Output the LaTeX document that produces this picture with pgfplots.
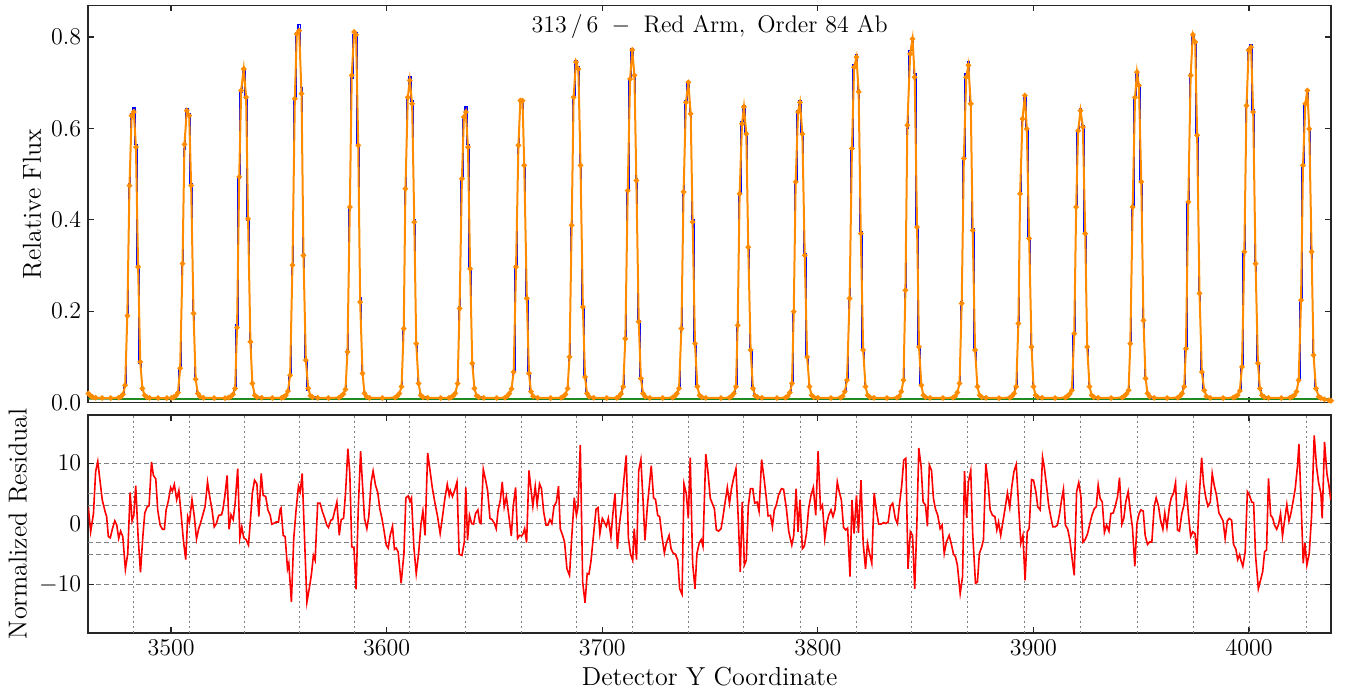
\documentclass[border=0pt]{standalone}
\usepackage{pgfplots}
\usepackage{pgfplotstable}
\pgfplotsset{compat=1.18}
\definecolor{dorange}{RGB}{255,140,0}
\definecolor{fgreen}{RGB}{34,139,34}
\definecolor{gridgray}{RGB}{128,128,128}

\pgfplotstableread{
x d m
3461.6 0.020 0.020
3462.6 0.015 0.015
3463.6 0.012 0.012
3465 0.0105 0.0105
3468 0.010 0.010
3472 0.010 0.010
3475.7 0.011 0.011
3476.7 0.013 0.013
3477.7 0.018 0.018
3478.7 0.038 0.038
3479.7 0.19 0.19
3480.7 0.48 0.475
3481.7 0.632 0.628
3482.7 0.645 0.636
3483.7 0.565 0.559
3484.7 0.30 0.297
3485.7 0.085 0.089
3486.7 0.028 0.031
3487.7 0.016 0.016
3488.7 0.012 0.012
3490 0.0105 0.0105
3494 0.010 0.010
3498 0.010 0.010
3500.2 0.0105 0.0105
3501.2 0.012 0.012
3502.2 0.015 0.015
3503.2 0.022 0.022
3504.2 0.075 0.075
3505.3 0.305 0.304
3506.2 0.555 0.565
3507.3 0.643 0.639
3508.4 0.632 0.628
3509.3 0.48 0.475
3510.4 0.195 0.195
3511.4 0.048 0.051
3512.4 0.02 0.02
3513.4 0.013 0.013
3515 0.0105 0.0105
3520 0.010 0.010
3525 0.010 0.010
3526.7 0.011 0.011
3527.7 0.013 0.013
3528.7 0.018 0.018
3529.7 0.031 0.031
3530.6 0.17 0.164
3531.6 0.49 0.494
3532.5 0.68 0.683
3533.7 0.73 0.730
3534.8 0.665 0.668
3535.7 0.40 0.402
3536.8 0.13 0.133
3537.7 0.04 0.042
3538.8 0.016 0.016
3539.8 0.012 0.012
3542 0.0105 0.0105
3547 0.010 0.010
3551.2 0.0105 0.0105
3552.2 0.012 0.012
3553.2 0.016 0.016
3554.2 0.025 0.025
3555.2 0.06 0.06
3556.3 0.30 0.301
3557.4 0.665 0.665
3558.3 0.81 0.807
3559.4 0.827 0.814
3560.5 0.69 0.676
3561.4 0.325 0.322
3562.5 0.09 0.093
3563.6 0.028 0.031
3564.6 0.015 0.015
3565.6 0.012 0.012
3568 0.0105 0.0105
3573 0.010 0.010
3577.9 0.011 0.011
3578.9 0.014 0.014
3579.9 0.019 0.019
3580.9 0.029 0.029
3581.8 0.115 0.111
3582.9 0.428 0.428
3583.8 0.71 0.716
3584.9 0.805 0.811
3585.8 0.81 0.805
3586.8 0.565 0.563
3587.7 0.23 0.22
3588.8 0.064 0.064
3589.7 0.02 0.02
3590.7 0.013 0.013
3592 0.0105 0.0105
3598 0.010 0.010
3603.9 0.011 0.011
3604.9 0.014 0.014
3605.9 0.020 0.020
3606.9 0.035 0.035
3607.9 0.16 0.162
3608.7 0.47 0.468
3609.8 0.67 0.668
3610.7 0.714 0.705
3611.8 0.66 0.654
3612.8 0.40 0.395
3613.7 0.125 0.129
3614.8 0.04 0.042
3615.8 0.016 0.016
3616.8 0.012 0.012
3619 0.0105 0.0105
3625 0.010 0.010
3628.9 0.0105 0.0105
3629.9 0.012 0.012
3630.9 0.015 0.015
3631.8 0.02 0.02
3632.9 0.042 0.042
3633.8 0.21 0.206
3634.9 0.49 0.49
3635.8 0.625 0.625
3636.7 0.647 0.636
3637.7 0.565 0.559
3638.7 0.295 0.293
3639.7 0.085 0.086
3640.7 0.03 0.031
3641.7 0.015 0.015
3642.7 0.012 0.012
3645 0.0105 0.0105
3651 0.010 0.010
3654.9 0.011 0.011
3655.9 0.014 0.014
3656.9 0.020 0.020
3657.9 0.030 0.030
3658.9 0.067 0.067
3660 0.30 0.297
3661.1 0.56 0.563
3662 0.663 0.661
3663 0.663 0.661
3663.8 0.52 0.519
3665 0.23 0.228
3666 0.062 0.064
3666.9 0.024 0.024
3667.9 0.014 0.014
3670 0.0105 0.0105
3676 0.010 0.010
3680.9 0.0105 0.0105
3681.9 0.013 0.013
3682.9 0.018 0.018
3683.9 0.031 0.031
3684.8 0.1 0.1
3685.8 0.385 0.388
3686.7 0.67 0.668
3687.8 0.748 0.745
3688.9 0.735 0.73
3689.9 0.52 0.519
3691 0.21 0.209
3692 0.055 0.056
3692.9 0.02 0.02
3693.9 0.013 0.013
3696 0.0105 0.0105
3702 0.010 0.010
3706.7 0.0105 0.0105
3707.7 0.013 0.013
3708.7 0.019 0.019
3709.7 0.035 0.035
3710.7 0.14 0.14
3711.8 0.464 0.464
3712.9 0.708 0.708
3713.9 0.775 0.772
3714.9 0.716 0.716
3715.8 0.49 0.486
3716.9 0.18 0.177
3717.9 0.053 0.053
3718.9 0.02 0.02
3719.9 0.013 0.013
3722 0.0105 0.0105
3728 0.010 0.010
3732.6 0.011 0.011
3733.6 0.014 0.014
3734.6 0.020 0.020
3735.6 0.031 0.031
3736.7 0.165 0.162
3737.7 0.46 0.461
3738.8 0.66 0.657
3739.9 0.703 0.701
3741 0.63 0.632
3741.9 0.40 0.395
3743 0.13 0.129
3744.1 0.035 0.035
3745.1 0.016 0.016
3746.1 0.012 0.012
3748 0.0105 0.0105
3755 0.010 0.010
3759 0.011 0.011
3760 0.014 0.014
3761 0.020 0.020
3762 0.035 0.035
3762.8 0.17 0.169
3763.7 0.46 0.457
3764.8 0.615 0.61
3765.7 0.65 0.647
3766.8 0.59 0.588
3767.7 0.34 0.34
3768.8 0.115 0.115
3769.9 0.031 0.031
3770.9 0.015 0.015
3772 0.012 0.012
3774 0.0105 0.0105
3781 0.010 0.010
3785 0.011 0.011
3786 0.014 0.014
3787 0.022 0.022
3788 0.042 0.042
3788.8 0.2 0.199
3789.7 0.485 0.483
3790.8 0.638 0.636
3791.7 0.661 0.657
3792.8 0.59 0.588
3793.9 0.325 0.322
3795 0.1 0.1
3796.1 0.035 0.035
3797.1 0.016 0.016
3798.1 0.012 0.012
3800 0.0105 0.0105
3806 0.010 0.010
3810.5 0.011 0.011
3811.5 0.014 0.014
3812.5 0.024 0.024
3813.5 0.049 0.049
3814.7 0.23 0.228
3815.8 0.555 0.556
3816.8 0.74 0.734
3817.9 0.761 0.756
3818.9 0.685 0.68
3819.9 0.375 0.37
3821 0.115 0.115
3822.1 0.035 0.035
3823.1 0.016 0.016
3824.1 0.012 0.012
3826 0.0105 0.0105
3832 0.010 0.010
3836.7 0.011 0.011
3837.7 0.014 0.014
3838.7 0.024 0.024
3839.7 0.049 0.049
3840.6 0.25 0.246
3841.5 0.6 0.607
3842.8 0.77 0.763
3843.9 0.796 0.796
3844.9 0.72 0.712
3846 0.385 0.384
3846.9 0.12 0.122
3848 0.038 0.038
3848.9 0.016 0.016
3849.9 0.012 0.012
3852 0.0105 0.0105
3858 0.010 0.010
3862.7 0.011 0.011
3863.7 0.014 0.014
3864.7 0.022 0.022
3865.7 0.042 0.042
3866.7 0.22 0.217
3867.7 0.535 0.534
3868.8 0.72 0.712
3869.8 0.746 0.738
3870.9 0.655 0.654
3871.8 0.38 0.377
3872.9 0.115 0.115
3874 0.035 0.035
3875 0.016 0.016
3876 0.012 0.012
3878 0.0105 0.0105
3884 0.010 0.010
3889 0.011 0.011
3890 0.014 0.014
3891 0.020 0.020
3892 0.035 0.035
3893 0.175 0.173
3893.8 0.455 0.457
3894.9 0.62 0.621
3896 0.672 0.672
3896.9 0.6 0.599
3898 0.36 0.359
3899.1 0.12 0.122
3900 0.035 0.035
3901 0.016 0.016
3902 0.012 0.012
3904 0.0105 0.0105
3910 0.010 0.010
3914.8 0.011 0.011
3915.8 0.014 0.014
3916.8 0.019 0.019
3917.8 0.027 0.027
3918.9 0.15 0.151
3919.8 0.43 0.428
3920.7 0.595 0.595
3921.8 0.644 0.639
3922.9 0.605 0.603
3924 0.37 0.37
3924.9 0.12 0.122
3926 0.035 0.035
3927 0.016 0.016
3928 0.012 0.012
3930 0.0105 0.0105
3936 0.010 0.010
3941.1 0.011 0.011
3942.1 0.014 0.014
3943.1 0.019 0.019
3944.1 0.027 0.027
3944.9 0.13 0.129
3946 0.43 0.428
3947.1 0.67 0.668
3948 0.725 0.723
3948.9 0.695 0.694
3950 0.485 0.483
3951 0.18 0.18
3952 0.053 0.053
3952.9 0.02 0.02
3953.9 0.013 0.013
3956 0.0105 0.0105
3962 0.010 0.010
3966.9 0.011 0.011
3967.9 0.014 0.014
3968.9 0.020 0.020
3969.9 0.035 0.035
3970.7 0.12 0.118
3971.8 0.44 0.439
3972.9 0.72 0.716
3973.9 0.806 0.805
3975 0.79 0.789
3975.9 0.585 0.585
3977 0.24 0.239
3978.1 0.067 0.067
3979.2 0.027 0.027
3980.2 0.014 0.014
3982 0.0105 0.0105
3988 0.010 0.010
3992.7 0.011 0.011
3993.7 0.013 0.013
3994.7 0.016 0.016
3995.7 0.026 0.026
3996.7 0.078 0.078
3997.8 0.33 0.33
3998.8 0.65 0.65
3999.8 0.775 0.771
4000.9 0.784 0.778
4001.9 0.64 0.636
4003 0.305 0.304
4004.1 0.086 0.086
4005 0.031 0.031
4006 0.016 0.016
4007 0.012 0.012
4009 0.0105 0.0105
4015 0.010 0.010
4019 0.011 0.011
4020 0.013 0.013
4021 0.016 0.016
4022 0.024 0.024
4023 0.049 0.049
4024.1 0.225 0.224
4025 0.52 0.519
4026.1 0.655 0.654
4027 0.683 0.683
4027.9 0.6 0.599
4029 0.33 0.33
4029.9 0.105 0.104
4031 0.031 0.031
4032.3 0.013 0.013
4033.3 0.010 0.010
4035 0.007 0.007
4037 0.005 0.005
4038 0.004 0.004
}\flux

\pgfplotstableread{
x r
3461.6 2.8
3462.7 -1.3
3464 1.7
3465 8.6
3466 10.3
3467 7.2
3468.1 3.9
3469.4 2.0
3470.1 1.2
3470.9 -2.1
3471.8 -2.3
3472.8 -0.8
3473.9 0.5
3474.8 -0.2
3475.7 -2.4
3476.6 -1.2
3477.6 -2.1
3478.8 -7.5
3479.9 -4.9
3481 5.2
3481.9 0.5
3482.7 1.4
3483.6 6.3
3484.7 -2.1
3485.8 -8.0
3486.9 -2.1
3487.8 1.8
3488.9 2.8
3489.8 3.0
3490.9 10.2
3491.8 8.0
3492.9 7.4
3493.8 2.3
3494.9 -0.2
3496 -0.9
3496.9 -0.9
3497.7 2.3
3498.8 3.9
3499.8 6.0
3500.6 5.4
3501.5 6.5
3502.6 4.0
3503.6 5.5
3504.6 1.8
3505.7 -2.7
3506.8 -5.9
3507.7 1.2
3508.5 0.3
3509.7 4.0
3510.7 1.4
3511.8 -2.5
3512.8 -0.8
3513.6 0.05
3514.8 1.6
3515.8 2.9
3516.9 6.9
3517.9 4.5
3519 2.3
3520 -0.5
3521 0.05
3522.1 1.4
3523.4 1.5
3524 2.3
3524.9 4.5
3526 8.0
3526.9 -0.9
3527.8 1.5
3528.8 0.7
3529.7 3.4
3530.9 9.1
3531.9 -2.3
3532.8 -0.5
3533.7 -2.3
3534.8 -2.6
3535.9 -3.5
3536.8 0.6
3537.7 5.1
3538.7 7.2
3539.8 6.6
3540.7 1.2
3541.8 8.3
3542.7 4.7
3543.9 4.5
3544.9 2.3
3546 1.4
3546.7 -0.05
3547.5 0.05
3548.7 0.3
3549.8 0.3
3550.6 2.4
3551 2.6
3552 -1.9
3552.9 -2.1
3554 -7.4
3554.6 -6.5
3555.8 -12.9
3556.9 -2.4
3558 2.4
3559.1 6.2
3559.9 5.3
3560.8 8.3
3561.9 -2.4
3563 -12.9
3564.2 -10.4
3565.1 -8.3
3566 -5.2
3566.8 -6.0
3568 3.4
3569.1 3.4
3570.2 2.0
3571.3 0.9
3572.2 -0.2
3573 -0.6
3574.1 0.6
3574.9 0.7
3575.8 2.0
3576.9 3.6
3578 -1.9
3578.9 0.7
3580 0.9
3580.9 5.0
3582 12.4
3582.9 8.3
3583.8 -3.8
3584.8 -3.9
3585.8 -10.8
3586.8 2.3
3587.9 12.0
3588.8 6.4
3589.7 0.9
3590.8 -0.8
3591.7 1.2
3592.8 6.9
3593.7 8.7
3594.8 6.4
3595.9 5.1
3596.8 2.5
3597.8 0.9
3598.8 -1.2
3599.8 -3.5
3600.7 -4.0
3601.6 -1.9
3602.7 -0.4
3603.6 -4.2
3604.4 -4.0
3605.3 -4.6
3606.7 -9.8
3608 -4.9
3608.9 4.3
3610 4.6
3610.8 3.7
3611.5 4.3
3612.6 -3.8
3613.7 -8.2
3614.8 -4.9
3615.9 -0.05
3616.8 2.1
3617.8 -1.9
3619 11.7
3620 9.1
3621.1 6.1
3622.4 3.4
3623.6 1.2
3624.8 -1.6
3625.9 1.2
3627 4.2
3628.1 6.5
3629 4.7
3629.5 5.5
3630.5 4.5
3631.5 5.5
3632.6 6.9
3633.6 -5.0
3634.9 -5.2
3636 -3.0
3636.7 6.0
3637.5 -2.7
3638.4 1.4
3639.4 0.05
3640.3 -0.05
3641.2 1.7
3642.3 2.3
3643.1 0.2
3643.7 0.05
3644.8 9.0
3645.9 7.2
3646.8 5.5
3647.9 0.9
3648.9 0.7
3650 0.05
3650.8 -0.8
3651.7 2.3
3652.7 3.9
3653.6 6.9
3654.5 2.8
3655.5 4.5
3656.7 1.2
3657.8 -2.0
3658.7 2.9
3659.8 6.0
3660.7 -2.4
3661.6 -1.9
3662.6 -2.0
3663.3 -1.6
3664 -0.8
3664.9 -3.1
3666 8.8
3666.9 5.8
3667.8 2.9
3668.9 6.2
3669.8 3.2
3670.9 6.6
3671.8 5.8
3672.8 2.0
3673.9 -0.2
3674.8 -0.2
3675.7 0.7
3676.6 0.05
3677.6 2.9
3678.7 3.6
3679.7 6.2
3680.5 -0.8
3681.6 -1.9
3682.5 -3.0
3683.6 -7.4
3684.8 -8.5
3685.8 -2.4
3687 4.3
3688 1.4
3688.7 2.7
3689.8 13.0
3690.9 -9.6
3692 -13.0
3693 -8.2
3693.8 -8.3
3694.7 -6.3
3696 -1.6
3697.1 2.4
3698 2.7
3698.9 -1.6
3700 0.9
3700.9 0.3
3701.9 -0.4
3702.8 0.9
3704 -2.1
3704.9 1.6
3705.9 5.0
3707 -4.1
3708 0.05
3709 2.9
3710 7.2
3711.1 11.3
3712.1 -2.3
3713.1 -5.0
3714.1 -6.0
3714.8 -0.8
3715.9 -5.9
3716.9 8.8
3717.9 10.6
3718.9 3.9
3719.8 -2.7
3720.9 2.9
3721.8 6.2
3722.7 9.6
3723.8 4.3
3724.7 4.0
3725.7 1.4
3726.6 1.2
3727.7 -2.1
3728.8 -4.8
3729.7 -3.2
3731 -1.9
3731.9 -4.1
3732.8 -4.8
3733.9 -5.0
3735 -6.0
3735.9 -10.7
3737 -11.6
3737.9 6.6
3739 4.9
3739.9 0.9
3740.8 10.9
3741.9 -6.5
3743 -10.7
3743.9 -4.9
3745 -3.1
3745.9 -2.6
3746.7 -3.7
3748 11.5
3749 8.6
3750.1 4.2
3751 3.4
3752 2.5
3752.9 -1.0
3754 -1.2
3755.1 -0.8
3756 1.2
3757.1 3.9
3758 6.0
3759 3.4
3759.9 5.8
3760.9 7.5
3762 9.1
3763.1 0.6
3764 -7.9
3764.9 3.6
3765.9 -6.8
3766.8 -6.0
3767.7 2.8
3768.7 5.8
3769.8 5.8
3770.7 3.4
3771.8 3.6
3772.7 2.1
3773.9 10.6
3775 7.6
3776.1 4.2
3776.9 1.3
3778 1.4
3778.9 -0.5
3779.8 2.3
3780.7 3.1
3781.8 4.8
3783.1 5.8
3784.1 5.7
3785.4 2.5
3786.5 -1.3
3787.9 -3.5
3788.8 -1.9
3789.9 5.8
3790.8 -1.3
3791.7 4.0
3792.8 -4.1
3793.7 -3.7
3794.7 -1.6
3795.7 2.5
3796.8 4.7
3797.9 6.0
3799 1.4
3800.1 12.0
3801.2 2.5
3802.1 3.1
3803.2 -2.4
3804.1 0.05
3805 1.4
3806.1 2.3
3807 1.2
3807.9 2.3
3809 6.9
3809.9 5.3
3810.9 3.9
3811.9 -0.6
3812.9 -1.0
3813.8 -0.7
3814.9 -8.7
3815.8 3.9
3816.8 -1.6
3817.9 4.7
3818.8 -1.5
3820 7.2
3821 -3.2
3822.1 -7.4
3823 -3.2
3823.9 -4.8
3825 -6.5
3826.1 5.1
3827.1 2.3
3828.2 -0.05
3829.3 -0.05
3830.5 0.2
3831.5 0.05
3832.6 0.3
3833.6 2.9
3834.7 3.4
3835.9 0.9
3836.9 0.05
3837.8 3.1
3838.9 6.4
3839.8 10.5
3840.8 10.8
3841.8 -7.4
3842.9 -1.3
3843.9 -1.9
3844.9 -10.7
3845.9 -0.2
3846.8 12.5
3847.9 9.4
3848.8 3.6
3849.9 3.1
3850.8 -0.4
3851.7 9.7
3852.7 8.8
3853.6 4.2
3854.5 2.5
3855.6 1.4
3856.7 -0.8
3857.6 -0.2
3858.6 -4.9
3859.6 -3.0
3860.9 -1.9
3862 -3.5
3862.9 -5.0
3863.8 -5.4
3864.7 -6.8
3866 -11.5
3867.1 -8.7
3868 8.7
3869 1.0
3869.8 6.9
3870.9 8.8
3871.8 -1.6
3873.1 -9.8
3874 -9.6
3874.9 -4.9
3876 -3.8
3876.8 -2.6
3877.9 9.9
3879 6.6
3879.9 2.3
3881 1.4
3882.1 1.2
3883 -1.0
3883.8 0.3
3884.8 -1.9
3885.8 0.3
3886.9 2.7
3887.9 5.1
3889 2.7
3889.9 6.0
3890.9 8.6
3892 9.8
3892.9 4.2
3894.1 -3.2
3895.1 -1.9
3896.1 -9.3
3897.1 -1.3
3898 -0.8
3899.1 7.3
3900 7.2
3901.1 5.3
3902 2.8
3903.1 2.3
3904.2 11.0
3905.1 9.1
3906.2 5.8
3907.1 2.9
3908 1.2
3909 -0.5
3910 -0.5
3911.1 -0.2
3912.1 1.7
3913 3.9
3913.9 5.7
3914.8 -0.2
3915.9 -0.9
3916.9 -2.7
3917.9 -5.7
3918.9 -8.5
3920 5.3
3921 6.8
3922 4.5
3922.9 -3.0
3924 -2.6
3925.1 -1.6
3926 -0.2
3927.1 1.4
3928.2 2.5
3929.1 2.8
3930 6.4
3930.9 4.2
3931.9 3.6
3932.9 -1.4
3933.9 -0.2
3935 -1.2
3935.9 1.7
3937 1.8
3937.9 2.9
3939 4.5
3939.9 7.6
3941 -0.05
3941.9 0.9
3942.8 3.6
3943.9 5.3
3945 1.8
3945.9 -0.6
3947 -7.0
3948 0.05
3948.9 1.6
3949.8 2.3
3950.9 2.1
3951.8 -1.9
3952.9 -3.4
3953.8 -3.0
3954.9 -3.0
3956 2.9
3956.9 4.3
3958 2.9
3958.9 0.7
3960 -0.9
3960.9 1.8
3961.9 -0.6
3963 2.7
3963.9 4.3
3965 5.1
3965.9 6.8
3966.8 -1.0
3967.7 -1.2
3968.8 1.7
3969.8 3.1
3970.8 6.0
3971.9 1.4
3972.9 -2.1
3973.9 -1.3
3974.9 -1.6
3975.8 -5.0
3976.9 4.7
3978 10.9
3978.9 6.6
3980 4.2
3980.9 2.9
3982 3.6
3982.9 8.3
3983.8 6.4
3984.9 4.7
3986 1.8
3986.9 1.2
3987.9 0.5
3988.9 -2.4
3989.9 0.5
3990.8 0.9
3991.9 0.6
3992.8 -3.4
3993.9 -4.2
3994.7 -5.9
3995.6 -5.1
3996.2 -6.0
3997.1 -7.0
3998.2 -4.6
3999.2 5.3
4000.2 4.7
4001.2 3.6
4002.1 3.5
4003 -5.2
4004.3 -10.7
4005.3 -9.3
4006.3 -7.9
4007.2 -4.6
4008.1 -4.3
4009 7.5
4010 1.4
4010.9 1.0
4011.8 -0.2
4012.8 -0.9
4013.7 -0.05
4014.6 1.7
4015.5 -2.0
4016.6 0.9
4017.5 3.2
4018.5 0.5
4019.4 1.7
4020.5 3.9
4021.4 5.8
4022.5 9.7
4023.1 13.2
4024.2 2.8
4025.1 -6.5
4025.9 -3.2
4026.8 -6.8
4027.9 -4.9
4029 1.4
4030.2 14.6
4031.3 9.4
4032.2 6.9
4033.3 5.0
4033.9 0.9
4035 13.5
4036.1 8.3
4037 6.4
4037.9 3.9
}\resid

\pgfplotsset{
  panel/.style={
    scale only axis,
    width=621.35pt,
    xmin=3461.6, xmax=4038,
    axis line style={black!85, line width=0.8pt},
    tick align=inside,
    tick pos=both,
    major tick length=3pt,
    tick style={black!85, line width=0.6pt},
    xtick={3500,3600,3700,3800,3900,4000},
    font=\fontsize{13}{15.6}\selectfont,
    ticklabel style={font=\fontsize{13}{15.6}\selectfont},
    /pgf/number format/1000 sep={},
    clip=true,
  }
}

\begin{document}
\begin{tikzpicture}[x=1pt,y=1pt]
\path[use as bounding box] (0,0) rectangle (674.5,346);

\begin{axis}[panel,
  at={(44.15pt,144.7pt)}, anchor=south west,
  height=198.55pt,
  ymin=0, ymax=0.869,
  ytick={0,0.2,0.4,0.6,0.8},
  xticklabels={},
  yticklabel style={/pgf/number format/fixed,/pgf/number format/fixed zerofill,/pgf/number format/precision=1},
  ylabel={Relative Flux},
  ylabel style={at={(axis description cs:-0.0453,0.5)}, anchor=center},
]
\addplot[fgreen, line width=0.8pt] coordinates {(3461.6,0.0080) (4038,0.0078)};
\addplot[blue, line width=0.7pt, const plot mark mid] table[x=x,y=d] {\flux};
\addplot[dorange, line width=1pt, mark=*, mark size=0.8pt, mark options={dorange}] table[x=x,y=m] {\flux};
\node[anchor=base, yshift=-13.3pt, font=\fontsize{12.3}{14.8}\selectfont] at (axis description cs:0.5,1) {$313\,/\,6\ -\ \mathrm{Red\ Arm,\ Order\ 84\ Ab}$};
\end{axis}

\begin{axis}[panel,
  at={(44.15pt,29.65pt)}, anchor=south west,
  height=108.85pt,
  ymin=-17.95, ymax=17.95,
  ytick={-10,0,10},
  extra y ticks={-5,-3,3,5},
  extra y tick labels={},
  extra y tick style={major tick length=0pt},
  ymajorgrids=true,
  extra x ticks={3482.7,3508.4,3533.9,3559.4,3585.1,3610.8,3636.6,3662.3,3688.1,3713.9,3739.8,3765.6,3791.8,3817.9,3843.6,3869.6,3895.8,3921.9,3948.1,3974.3,4000.4,4026.5},
  extra x tick labels={},
  extra x tick style={major tick length=0pt, xmajorgrids=true, major grid style={gridgray, line width=0.5pt, dash pattern=on 1pt off 1.5pt}},
  major grid style={gridgray, line width=0.5pt, dash pattern=on 2.5pt off 1.5pt},
  xlabel={Detector Y Coordinate},
  xlabel style={at={(axis description cs:0.5,-0.2448)}, anchor=base},
  ylabel={Normalized Residual},
  ylabel style={at={(axis description cs:-0.0566,0.5)}, anchor=center},
]
\addplot[red, line width=0.8pt] table[x=x,y=r] {\resid};
\end{axis}
\end{tikzpicture}
\end{document}
